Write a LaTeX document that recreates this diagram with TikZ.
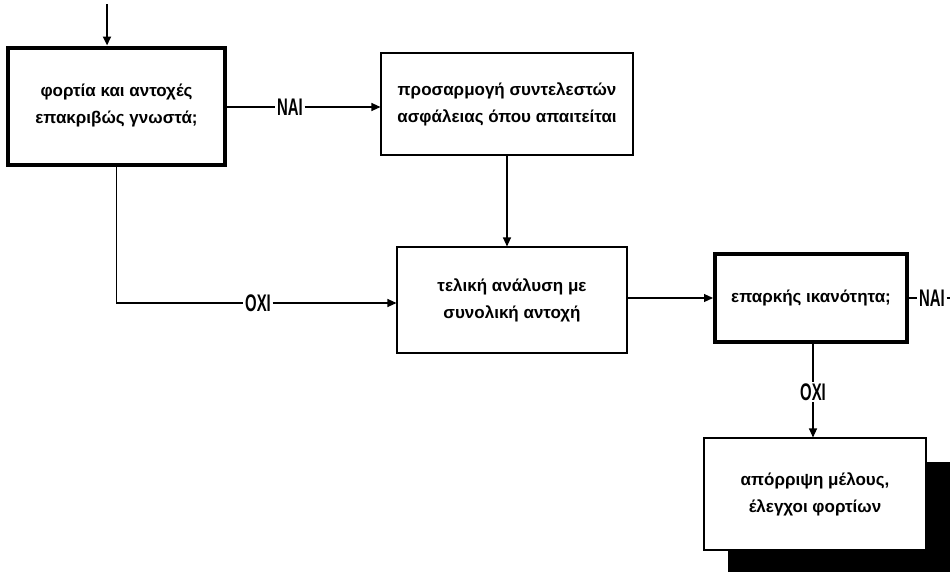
\documentclass[tikz,border=0pt]{standalone}
\usepackage{fontspec}
\setmainfont{Liberation Sans}
\newfontfamily\labfont{Liberation Sans}[FakeStretch=0.62]
\usetikzlibrary{arrows.meta,shadows}
\begin{document}
\begin{tikzpicture}[x=1pt,y=-1pt,
  box/.style={draw, line width=1.1pt, align=center, inner sep=2pt, fill=white,
    font={\fontsize{17}{27}\selectfont\bfseries}},
  thickbox/.style={box, line width=4pt},
  lab/.style={inner sep=1.5pt, font={\labfont\fontsize{24}{24}\selectfont\bfseries}},
  conn/.style={line width=1.1pt},
  arr/.style={conn, -{Triangle[length=9pt,width=8pt]}}]
\useasboundingbox (0,0) rectangle (950,571);

\node[thickbox, minimum width=217pt, minimum height=117pt] (b1) at (116.5,106)
  {φορτία και αντοχές\\επακριβώς γνωστά;};
\node[box, minimum width=252pt, minimum height=102pt] (b2) at (507,104)
  {προσαρμογή συντελεστών\\ασφάλειας όπου απαιτείται};
\node[box, minimum width=230pt, minimum height=106pt] (b3) at (512,300)
  {τελική ανάλυση με\\συνολική αντοχή};
\node[thickbox, minimum width=192pt, minimum height=88pt] (b4) at (811,298)
  {επαρκής ικανότητα;};
\node[box, minimum width=222pt, minimum height=112pt,
  drop shadow={opacity=1, fill=black, shadow xshift=24pt, shadow yshift=-24pt}] (b5) at (815,494)
  {απόρριψη μέλους,\\έλεγχοι φορτίων};

\node[lab] (nai1) at (290,107) {NAI};
\node[lab] (oxi1) at (258,303) {OXI};
\node[lab] (nai2) at (932,298) {NAI};
\node[lab] (oxi2) at (813,392) {OXI};

\coordinate (in) at (107,4);
\coordinate (out) at (965,298);

\draw[arr, line width=2.5pt] (in) -- (in |- b1.north);
\draw[conn] (b1.east |- nai1) -- (nai1.west);
\draw[arr] (nai1.east) -- (nai1 -| b2.west);
\draw[arr] (b2.south) -- (b2.south |- b3.north);
\draw[conn] (b1.south) |- (oxi1.west);
\draw[arr] (oxi1.east) -- (oxi1 -| b3.west);
\draw[arr] (b3.east |- b4.west) -- (b4.west);
\draw[conn] (b4.east) -- (nai2.west);
\draw[conn] (nai2.east) -- (out);
\draw[conn] (b4.south -| oxi2) -- (oxi2.north);
\draw[arr] (oxi2.south) -- (oxi2 |- b5.north);
\end{tikzpicture}
\end{document}
